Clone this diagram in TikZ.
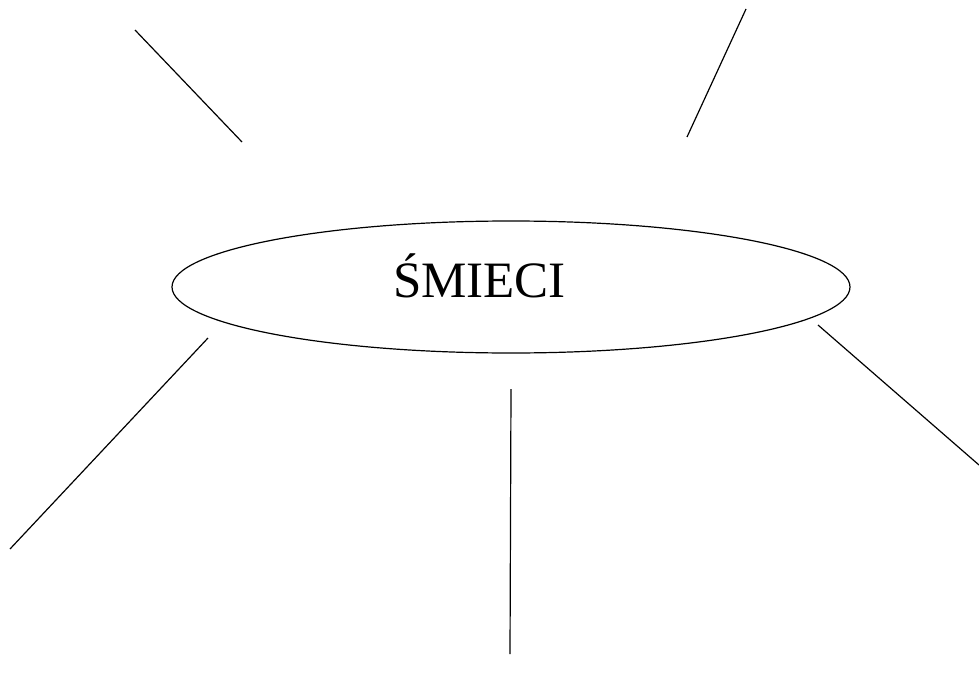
\documentclass[tikz,border=0pt]{standalone}
\usepackage{fontspec}
\setmainfont{Liberation Serif}
\usetikzlibrary{shapes.geometric}
\begin{document}
\begin{tikzpicture}[x=1pt,y=-1pt,
  ray/.style={draw=black,line width=1.2pt},
  ellbox/.style={draw=black,line width=1.2pt}]
\useasboundingbox (0,0) rectangle (979,682);
\node[ellbox,ellipse,minimum width=678pt,minimum height=132pt,inner sep=0pt] (e) at (511,287) {};
\node[anchor=base,font=\fontsize{51}{60}\selectfont,inner sep=0pt] (t) at (479.5,297) {ŚMIECI};
\coordinate (a1) at (135,30); \coordinate (a2) at (242,142);
\coordinate (b1) at (746,9); \coordinate (b2) at (687,137);
\coordinate (c1) at (208,338); \coordinate (c2) at (10,549);
\coordinate (d1) at (511,389); \coordinate (d2) at (510,654);
\coordinate (f1) at (818,325); \coordinate (f2) at (979,465);
\draw[ray] (a1) -- (a2);
\draw[ray] (b1) -- (b2);
\draw[ray] (c1) -- (c2);
\draw[ray] (d1) -- (d2);
\draw[ray] (f1) -- (f2);
\end{tikzpicture}
\end{document}
